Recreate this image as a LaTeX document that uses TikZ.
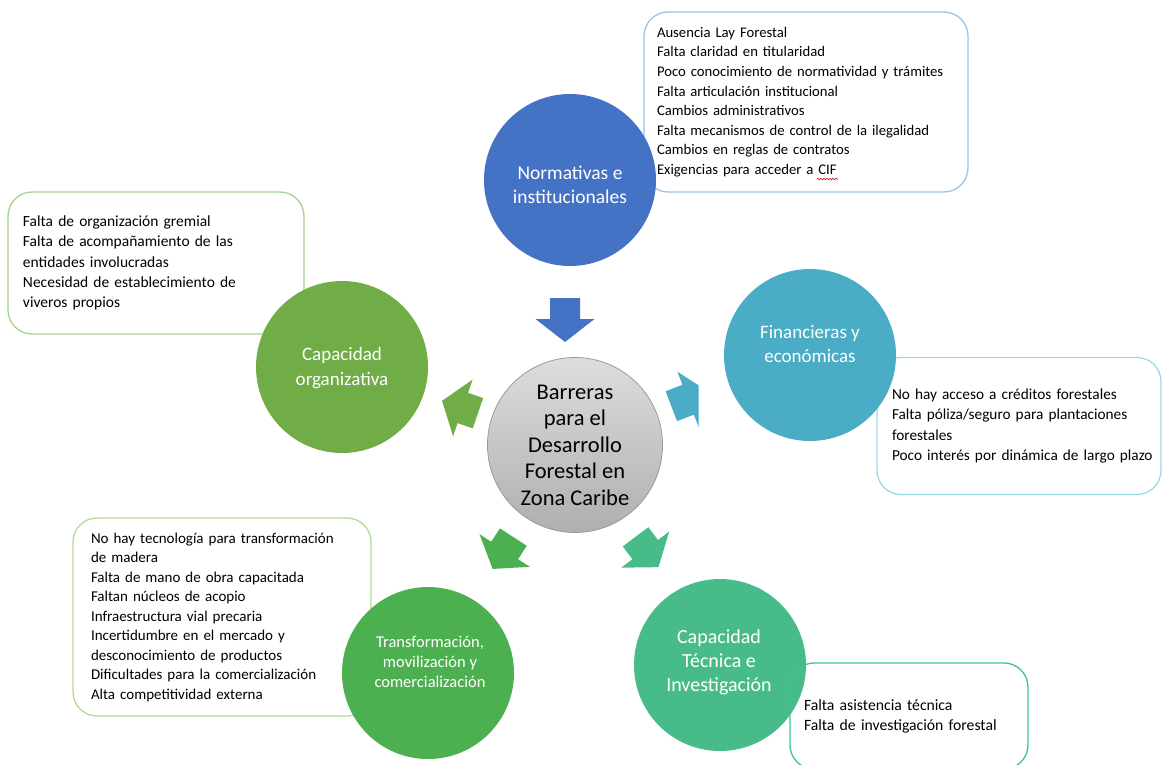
\documentclass[tikz,border=0pt]{standalone}
\usepackage{fontspec}
\setmainfont{Carlito}
\usetikzlibrary{decorations.pathmorphing}
\definecolor{cBlue}{HTML}{4472C4}
\definecolor{cBlueL}{HTML}{9DC3E6}
\definecolor{cOrg}{HTML}{70AD47}
\definecolor{cOrgL}{HTML}{A9D18E}
\definecolor{cTeal}{HTML}{4BACC6}
\definecolor{cTealL}{HTML}{9ADBE3}
\definecolor{cTrans}{HTML}{4CB050}
\definecolor{cTransL}{HTML}{B4DC8F}
\definecolor{cTec}{HTML}{48BB8B}
\definecolor{cTecL}{HTML}{3CC39E}
\definecolor{cGrayT}{HTML}{DDDDDD}
\definecolor{cGrayB}{HTML}{AFAFAF}
\definecolor{cGrayD}{HTML}{9A9A9A}
\newcommand\blkarrow[5]{%
  \begin{scope}[shift={(#1,#2)},rotate=#3]
    \fill[#4] (-#5/2,-16) -- (#5/2-22,-16) -- (#5/2-22,-30) -- (#5/2,0)
      -- (#5/2-22,30) -- (#5/2-22,16) -- (-#5/2,16) -- cycle;
  \end{scope}}
\begin{document}
\begin{tikzpicture}[x=1pt,y=-1pt,
  bigcirc/.style={circle, minimum size=172pt, inner sep=0pt},
  circtext/.style={text=white, align=center, inner sep=0pt,
    font=\fontsize{19.5}{24.5}\selectfont},
  infobox/.style={draw, rounded corners=24pt, line width=1.3pt,
    inner ysep=0pt, align=left}]
\useasboundingbox (0,0) rectangle (1162,765);

% boxes behind circles
\node[infobox, draw=cBlueL, fill=white, minimum width=324pt, minimum height=180pt,
  text width=298pt, inner xsep=13pt, font=\fontsize{14.7}{19.6}\selectfont] (bnorm) at (806,102)
  {Ausencia Lay Forestal\\Falta claridad en titularidad\\Poco conocimiento de normatividad y trámites\\Falta articulación institucional\\Cambios administrativos\\Falta mecanismos de control de la ilegalidad\\Cambios en reglas de contratos\\Exigencias para acceder a CIF};
\node[infobox, draw=cOrgL, fill=white, minimum width=296pt, minimum height=142pt,
  text width=266pt, inner xsep=15pt, font=\fontsize{15.5}{20.2}\selectfont] (borg) at (156,263)
  {Falta de organización gremial\\Falta de acompañamiento de las\\entidades involucradas\\Necesidad de establecimiento de\\viveros propios};
\node[infobox, draw=cTealL, fill=white, minimum width=284pt, minimum height=137pt,
  text width=254pt, inner xsep=15pt, font=\fontsize{15.3}{20.6}\selectfont] (bfin) at (1019,426)
  {\mbox{No hay acceso a créditos forestales}\\\mbox{Falta póliza/seguro para plantaciones}\\forestales\\\mbox{Poco interés por dinámica de largo plazo}};
\node[infobox, draw=cTransL, fill=white, minimum width=298pt, minimum height=198pt,
  text width=262pt, inner xsep=18pt, font=\fontsize{15}{19.5}\selectfont] (btrans) at (222,617)
  {No hay tecnología para transformación\\de madera\\Falta de mano de obra capacitada\\Faltan núcleos de acopio\\Infraestructura vial precaria\\Incertidumbre en el mercado y\\desconocimiento de productos\\Dificultades para la comercialización\\Alta competitividad externa};

% outer circles
\node[bigcirc, fill=cBlue] (norm) at (570,180) {};
\node[circtext] (normtxt) at (570,185) {Normativas e\\institucionales};
\node[bigcirc, fill=cOrg] (org) at (342,367) {};
\node[circtext, font=\fontsize{19}{24.5}\selectfont] (orgtxt) at (342,368) {Capacidad\\organizativa};
\node[bigcirc, fill=cTeal] (fin) at (810,355) {};
\node[circtext, font=\fontsize{19}{24.5}\selectfont] (fintxt) at (810,344) {Financieras y\\económicas};
\node[bigcirc, fill=cTrans] (trans) at (428,673) {};
\node[circtext, font=\fontsize{16.5}{20}\selectfont] (transtxt) at (430,662)
  {Transformación,\\movilización y\\comercialización};
\node[bigcirc, fill=cTec] (tec) at (720,665) {};
\node[circtext, font=\fontsize{20}{24}\selectfont] (tectxt) at (719,662)
  {Capacidad\\Técnica e\\Investigación};

% box drawn over its circle
\node[infobox, draw=cTecL, minimum width=238pt, minimum height=106pt,
  text width=210pt, inner xsep=14pt, font=\fontsize{15.7}{20}\selectfont] (btec) at (909,716)
  {Falta asistencia técnica\\Falta de investigación forestal};

% centre
\node[circle, minimum size=175pt, inner sep=0pt, draw=cGrayD, line width=0.8pt,
  top color=cGrayT, bottom color=cGrayB, align=center, text=black,
  font=\fontsize{22.5}{26.5}\selectfont] (centre) at (575,445)
  {Barreras\\para el\\Desarrollo\\Forestal en\\Zona Caribe};

% block arrows
\begin{scope}[shift={(565,320)},rotate=-90]
  \fill[cBlue] (-22,-15) -- (-1,-15) -- (-1,-29.5) -- (22,0) -- (-1,29.5) -- (-1,15) -- (-22,15) -- cycle;
\end{scope}
\blkarrow{460}{407}{161}{cOrg}{38}
\begin{scope}
  \clip (600,300) rectangle (698.5,470);
  \blkarrow{690}{399}{21}{cTeal}{40}
\end{scope}
\blkarrow{503}{553}{237}{cTrans}{38}
\blkarrow{647}{552}{-53}{cTec}{38}

% spell-check mark under CIF
\draw[red!85!black, line width=0.6pt, decorate,
  decoration={snake, amplitude=0.8pt, segment length=3pt}] (817,179) -- (838,179);
\end{tikzpicture}
\end{document}
